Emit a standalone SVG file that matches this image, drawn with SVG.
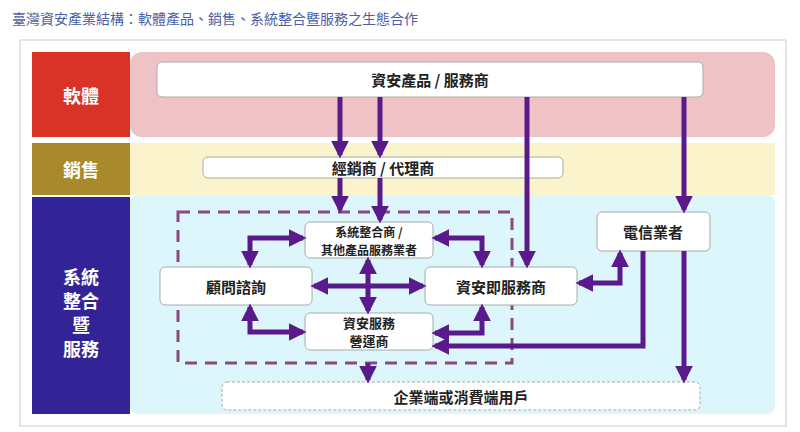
<svg xmlns="http://www.w3.org/2000/svg" width="800" height="432" viewBox="0 0 800 432">
<style>
text{font-family:"Noto Sans CJK TC","Noto Sans CJK SC",sans-serif;font-weight:bold;text-anchor:middle;dominant-baseline:central}
.box{fill:#fff;stroke:#aaa;stroke-width:1}
.bt{font-size:15px;fill:#222}
.side{font-size:18px;fill:#fff}
.c{fill:none;stroke:#5b1a8c;stroke-width:5}
</style>
<defs>
<marker id="a" viewBox="0 0 10 10" refX="8" refY="5" markerWidth="3.6" markerHeight="3.6" orient="auto-start-reverse"><path d="M0,0L10,5L0,10z" fill="#5b1a8c"/></marker>
</defs>
<rect width="800" height="432" fill="#fff"/>
<text x="12" y="18" style="font-size:14px;font-weight:normal;fill:#4a5fa8;text-anchor:start">臺灣資安產業結構：軟體產品、銷售、系統整合暨服務之生態合作</text>
<rect x="20" y="40" width="766" height="386" fill="#fff" stroke="#ccc"/>
<rect x="130" y="52" width="645" height="85" rx="12" fill="#efc3c5"/>
<rect x="130" y="143" width="645" height="52" fill="#fbf3cc"/>
<rect x="130" y="195" width="645" height="219" rx="8" fill="#dcf6fb"/>
<g id="lab-soft"><rect x="32" y="52" width="98" height="85" fill="#d93226"/><text class="side" x="81" y="95">軟體</text></g>
<g id="lab-sales"><rect x="32" y="143" width="98" height="52" fill="#a88a2c"/><text class="side" x="81" y="169">銷售</text></g>
<g id="lab-si"><rect x="32" y="197" width="98" height="217" fill="#322497"/><text class="side" x="81" y="276">系統</text><text class="side" x="81" y="300">整合</text><text class="side" x="81" y="324">暨</text><text class="side" x="81" y="348">服務</text></g>
<rect x="178" y="212" width="334" height="151" fill="none" stroke="#8a4a80" stroke-width="3" stroke-dasharray="12,8"/>
<g id="vendor"><rect class="box" x="157" y="62" width="546" height="35" rx="5"/><text class="bt" x="430" y="79">資安產品 / 服務商</text></g>
<g id="reseller"><rect class="box" x="203" y="157" width="360" height="21" rx="5"/><text class="bt" x="383" y="167">經銷商 / 代理商</text></g>
<g id="si"><rect class="box" x="305" y="222" width="128" height="36" rx="5"/><text class="bt" x="369" y="231" style="font-size:12px">系統整合商 /</text><text class="bt" x="369" y="249" style="font-size:12px">其他產品服務業者</text></g>
<g id="consult"><rect class="box" x="160" y="267" width="152" height="38" rx="5"/><text class="bt" x="236" y="286">顧問諮詢</text></g>
<g id="saas"><rect class="box" x="425" y="267" width="152" height="38" rx="5"/><text class="bt" x="501" y="286">資安即服務商</text></g>
<g id="mssp"><rect class="box" x="305" y="313" width="128" height="37" rx="5"/><text class="bt" x="369" y="322" style="font-size:13px">資安服務</text><text class="bt" x="369" y="340" style="font-size:13px">營運商</text></g>
<g id="telecom"><rect class="box" x="597" y="212" width="113" height="39" rx="5"/><text class="bt" x="653" y="231">電信業者</text></g>
<g id="users"><rect x="222" y="382" width="478" height="28" rx="5" fill="#fff" stroke="#aaa" stroke-dasharray="3,2"/><text class="bt" x="461" y="396">企業端或消費端用戶</text></g>
<g id="connectors">
<path class="c" d="M340,97V155" marker-end="url(#a)"/>
<path class="c" d="M380,97V155" marker-end="url(#a)"/>
<path class="c" d="M340,178V210" marker-end="url(#a)"/>
<path class="c" d="M380,178V220" marker-end="url(#a)"/>
<path class="c" d="M527,97V265" marker-end="url(#a)"/>
<path class="c" d="M684,97V210" marker-end="url(#a)"/>
<path class="c" d="M684,251V380" marker-end="url(#a)"/>
<path class="c" d="M643,251V346H435" marker-end="url(#a)"/>
<path class="c" d="M579,283H620V253" marker-start="url(#a)" marker-end="url(#a)"/>
<path class="c" d="M435,333H482V307" marker-start="url(#a)" marker-end="url(#a)"/>
<path class="c" d="M435,238H482V265" marker-start="url(#a)" marker-end="url(#a)"/>
<path class="c" d="M303,238H250V265" marker-start="url(#a)" marker-end="url(#a)"/>
<path class="c" d="M250,307V332H303" marker-start="url(#a)" marker-end="url(#a)"/>
<path class="c" d="M314,286H423" marker-start="url(#a)" marker-end="url(#a)"/>
<path class="c" d="M368,260V311" marker-start="url(#a)" marker-end="url(#a)"/>
<path class="c" d="M368,363V380" marker-end="url(#a)"/>
</g>
</svg>
